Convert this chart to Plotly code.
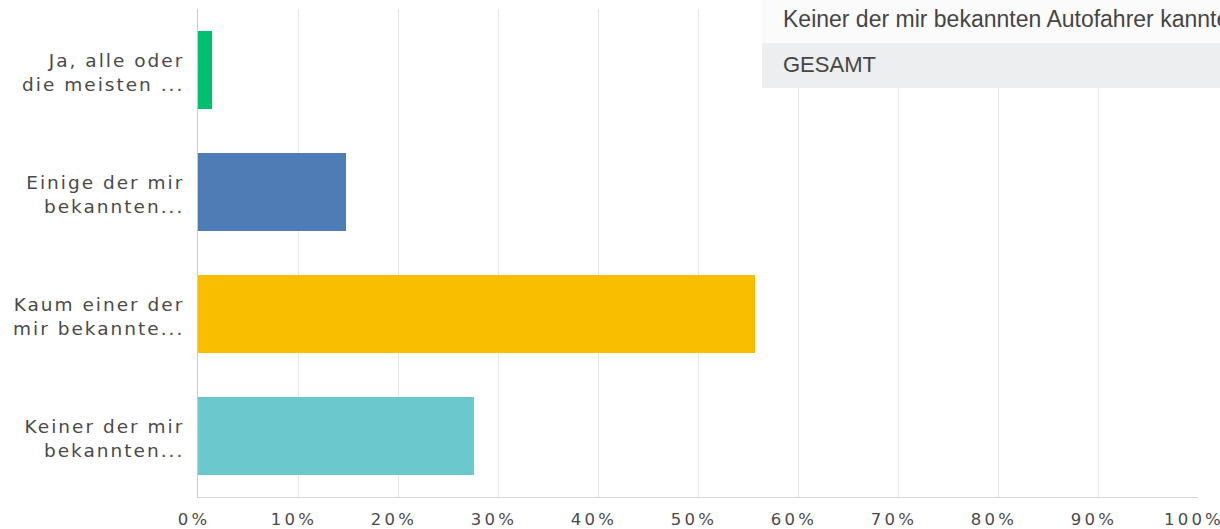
import plotly.graph_objects as go

categories = [
    "Ja, alle oder<br>die meisten ...",
    "Einige der mir<br>bekannten...",
    "Kaum einer der<br>mir bekannte...",
    "Keiner der mir<br>bekannten...",
]
values = [1.4, 14.8, 55.7, 27.6]
bar_colors = ["#00bf6f", "#507cb6", "#f9be00", "#6bc8cd"]
tick_vals = [0, 10, 20, 30, 40, 50, 60, 70, 80, 90, 100]
tick_text = ["0%", "10%", "20%", "30%", "40%", "50%", "60%", "70%", "80%", "90%", "100%"]
tooltip_title = "Keiner der mir bekannten Autofahrer kannte"
tooltip_group = "GESAMT"

W, H = 1220, 529
ML, MR, MT, MB = 198, 22, 9, 32
PW, PH = W - ML - MR, H - MT - MB


def px(xpix):
    return (xpix - ML) / PW


def py(ypix):
    return (H - MB - ypix) / PH


fig = go.Figure(
    go.Bar(
        x=values,
        y=categories,
        orientation="h",
        marker=dict(color=bar_colors, line=dict(width=0)),
        width=0.64,
        hoverinfo="skip",
    )
)

fig.update_layout(
    width=W,
    height=H,
    margin=dict(l=ML, r=MR, t=MT, b=MB, pad=0, autoexpand=False),
    paper_bgcolor="white",
    plot_bgcolor="white",
    showlegend=False,
    font=dict(family="DejaVu Sans", color="#4a4a4a"),
    xaxis=dict(
        range=[0, 100],
        tickvals=tick_vals,
        ticktext=tick_text,
        showgrid=True,
        gridcolor="#e6e6e6",
        gridwidth=1,
        zeroline=False,
        showline=True,
        linecolor="#d6d6d6",
        linewidth=1,
        mirror=False,
        ticks="",
        automargin=False,
        ticklabelstandoff=7,
        ticklabelshift=-4,
        ticklabeloverflow="allow",
        tickfont=dict(family="DejaVu Sans", size=16.5, color="#4a4a4a"),
        fixedrange=True,
    ),
    yaxis=dict(
        autorange="reversed",
        showgrid=False,
        zeroline=False,
        showline=True,
        linecolor="#cccccc",
        linewidth=1,
        ticks="",
        automargin=False,
        ticklabelstandoff=9,
        ticklabelshift=-3,
        tickfont=dict(family="DejaVu Sans", size=18.5, color="#4a4a4a"),
        fixedrange=True,
    ),
    shapes=[
        dict(type="rect", xref="paper", yref="paper",
             x0=px(762), x1=px(1240), y0=py(43), y1=py(-5),
             fillcolor="#fbfbfb", line=dict(width=0), layer="above"),
        dict(type="rect", xref="paper", yref="paper",
             x0=px(762), x1=px(1240), y0=py(88), y1=py(43),
             fillcolor="#eceeef", line=dict(width=0), layer="above"),
    ],
    annotations=[
        dict(xref="paper", yref="paper", x=px(781), y=py(19),
             xanchor="left", yanchor="middle", showarrow=False,
             text=tooltip_title,
             font=dict(family="Liberation Sans", size=23, color="#454545")),
        dict(xref="paper", yref="paper", x=px(781), y=py(64),
             xanchor="left", yanchor="middle", showarrow=False,
             text=tooltip_group,
             font=dict(family="Liberation Sans", size=22, color="#454545")),
    ],
)

post = """
document.body.style.margin = '0';
document.body.style.overflow = 'hidden';
var gd = document.getElementById('{plot_id}');
function ls(){
  gd.querySelectorAll('.ytick text').forEach(function(t){t.style.letterSpacing='2px';});
  gd.querySelectorAll('.xtick text').forEach(function(t){t.style.letterSpacing='3.2px';});
}
ls();
gd.on('plotly_afterplot', ls);
"""

fig.write_html("out.html", config={"displayModeBar": False}, post_script=post)
